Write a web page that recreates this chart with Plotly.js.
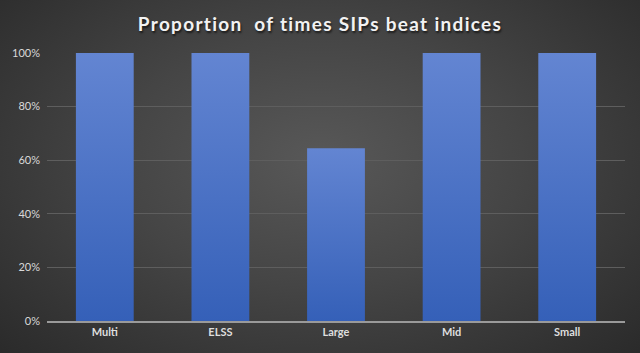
<!DOCTYPE html>
<html><head><meta charset="utf-8">
<script src="https://cdn.plot.ly/plotly-3.0.1.min.js"></script>
<style>
html,body{margin:0;padding:0;}
#chart{width:640px;height:353px;background:radial-gradient(ellipse 70% 80% at 50% 45%, #585858 0%, #454545 45%, #2a2a2a 100%);}
</style></head><body>
<div id="chart"></div>
<script>
const categories = ["Multi", "ELSS", "Large", "Mid", "Small"];
const proportions = [1.00, 1.00, 0.645, 1.00, 1.00];
const titleText = "Proportion&nbsp; of times SIPs beat indices";

const trace = {
  type: "bar",
  x: categories,
  y: proportions,
  marker: {color: "#4a70c8", line: {width: 0}},
  hoverinfo: "none"
};
const layout = {
  width: 640, height: 353,
  paper_bgcolor: "rgba(0,0,0,0)",
  plot_bgcolor: "rgba(0,0,0,0)",
  margin: {l: 47, r: 15, t: 53, b: 32},
  bargap: 0.5,
  showlegend: false,
  title: {text: "<b>" + titleText + "</b>", x: 0.5, xanchor: "center", y: 0.93, yanchor: "middle",
          font: {family: "Lato, 'Open Sans', sans-serif", size: 19, color: "#f2f2f2"}},
  xaxis: {showgrid: false, showline: true, linecolor: "#9a9a9a", linewidth: 1.5, ticks: "",
          tickfont: {family: "Lato, sans-serif", size: 11, color: "#dedede", weight: "bold"}, fixedrange: true},
  yaxis: {range: [0, 1], dtick: 0.2, tickformat: ".0%", showgrid: true, gridcolor: "#5e5e5e", gridwidth: 1,
          zeroline: false, showline: false, ticks: "", ticklabelstandoff: 6,
          tickfont: {family: "Lato, sans-serif", size: 11, color: "#d9d9d9"}, fixedrange: true}
};
Plotly.newPlot("chart", [trace], layout, {displayModeBar: false, staticPlot: true}).then(function(gd){
  const svg = gd.querySelector("svg.main-svg");
  const ns = "http://www.w3.org/2000/svg";
  let defs = svg.querySelector("defs");
  if (!defs) { defs = document.createElementNS(ns, "defs"); svg.insertBefore(defs, svg.firstChild); }
  const lg = document.createElementNS(ns, "linearGradient");
  lg.setAttribute("id", "barGrad");
  lg.setAttribute("x1", "0"); lg.setAttribute("y1", "0"); lg.setAttribute("x2", "0"); lg.setAttribute("y2", "1");
  lg.setAttribute("gradientUnits", "objectBoundingBox");
  [["0", "#6385d2"], ["1", "#3560b8"]].forEach(function(s){
    const st = document.createElementNS(ns, "stop");
    st.setAttribute("offset", s[0]); st.setAttribute("stop-color", s[1]);
    lg.appendChild(st);
  });
  defs.appendChild(lg);
  gd.querySelectorAll(".bars .point path").forEach(function(p){
    p.style.fill = "url(#barGrad)";
  });
  const t = gd.querySelector(".gtitle");
  if (t) { t.style.textShadow = "1px 2px 2px rgba(0,0,0,0.6)"; t.style.letterSpacing = "1.3px"; }
});
</script>
</body></html>
